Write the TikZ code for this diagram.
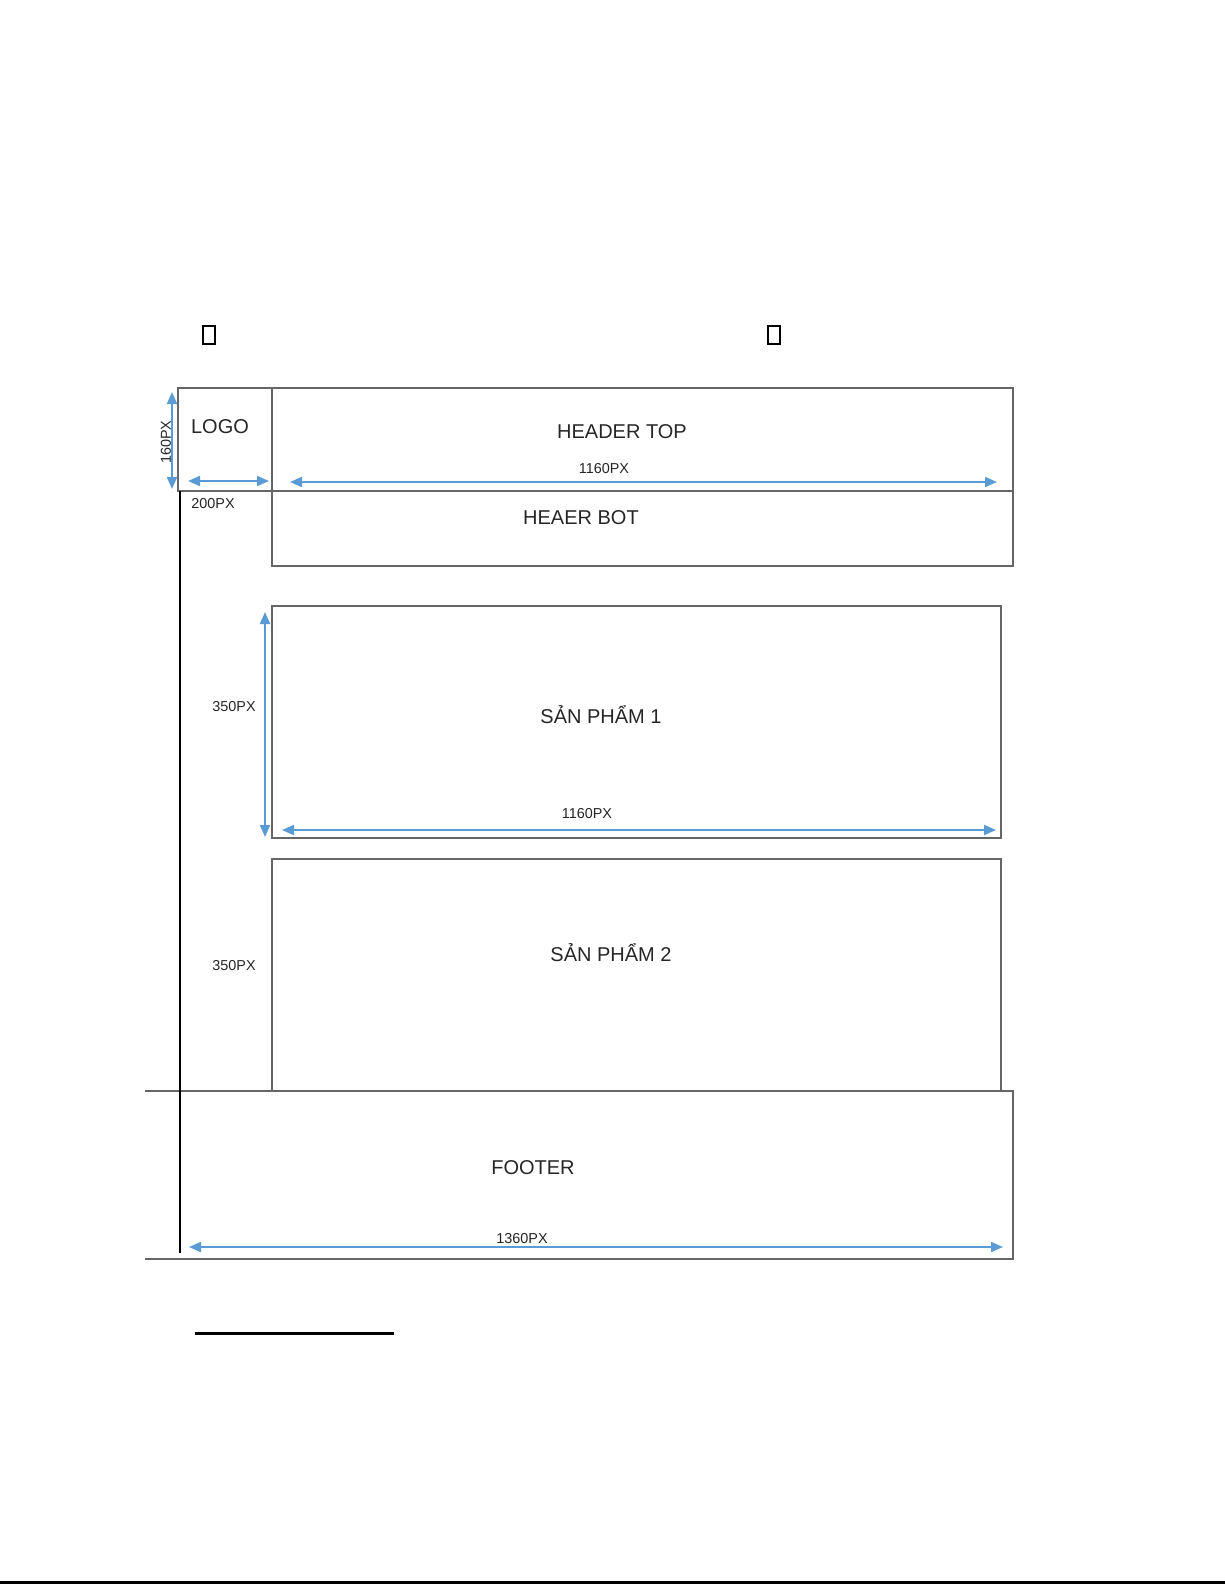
\documentclass[tikz,border=0pt]{standalone}
\usepackage{fontspec}
\setmainfont{Liberation Sans}
\usepackage{tikz}
\usetikzlibrary{arrows.meta}
\definecolor{DimBlue}{HTML}{5B9BD5}

\begin{document}
\begin{tikzpicture}[x=0.5pt, y=-0.5pt,
    frame/.style={draw=black!60, line width=0.9pt},
    dim/.style={DimBlue, line width=1pt, {Triangle[length=6pt,width=5pt]}-{Triangle[length=6pt,width=5pt]}},
    title/.style={font=\fontsize{10}{12}\selectfont, text=black!85},
    size/.style={font=\fontsize{7.2}{8}\selectfont, text=black!85},
    glyphbox/.style={draw=black, line width=0.8pt, minimum width=6pt, minimum height=9pt, inner sep=0pt}]
  \useasboundingbox (0,0) rectangle (1225,1585);

  % empty glyph boxes on top
  \node[glyphbox] (gl1) at (209,335) {};
  \node[glyphbox] (gl2) at (774,335) {};

  % header
  \draw[frame] (178,388) rectangle (272,491);
  \draw[frame] (272,388) rectangle (1013,491);
  \draw[frame] (272,491) rectangle (1013,566);
  \node[title] (logo) at (220,427) {LOGO};
  \node[title] (headtop) at (622,432) {HEADER TOP};
  \node[title] (headbot) at (581,518) {HEAER BOT};

  % products
  \draw[frame] (272,606) rectangle (1001,838);
  \draw[frame] (272,859) rectangle (1001,1091);
  \node[title] (prod1) at (601,715) {SẢN PHẨM 1};
  \node[title] (prod2) at (611,953) {SẢN PHẨM 2};

  % footer
  \draw[frame] (145,1091) -- (1013,1091) -- (1013,1259) -- (145,1259);
  \node[title] (footer) at (533,1168) {FOOTER};

  % left guide line
  \draw[black, line width=0.6pt] (180,491) -- (180,1253);

  % dimension lines
  \coordinate (hA) at (172,392);  \coordinate (hB) at (172,489);
  \coordinate (lA) at (188,481);  \coordinate (lB) at (269,481);
  \coordinate (tA) at (290,482);  \coordinate (tB) at (997,482);
  \coordinate (pA) at (265,612);  \coordinate (pB) at (265,837);
  \coordinate (wA) at (282,830);  \coordinate (wB) at (996,830);
  \coordinate (fA) at (189,1247); \coordinate (fB) at (1003,1247);
  \draw[dim] (hA) -- (hB);
  \draw[dim] (lA) -- (lB);
  \draw[dim] (tA) -- (tB);
  \draw[dim] (pA) -- (pB);
  \draw[dim] (wA) -- (wB);
  \draw[dim] (fA) -- (fB);

  \node[size, rotate=90] (h160) at (166,442) {160PX};
  \node[size] (w200) at (213,504) {200PX};
  \node[size] (w1160a) at (604,469) {1160PX};
  \node[size] (h350a) at (234,707) {350PX};
  \node[size] (w1160b) at (587,814) {1160PX};
  \node[size] (h350b) at (234,966) {350PX};
  \node[size] (w1360) at (522,1239) {1360PX};

  % rules below
  \draw[black, line width=1.5pt] (195,1333) -- (394,1333);
  \draw[black, line width=1.5pt] (0,1582) -- (1225,1582);
\end{tikzpicture}
\end{document}
